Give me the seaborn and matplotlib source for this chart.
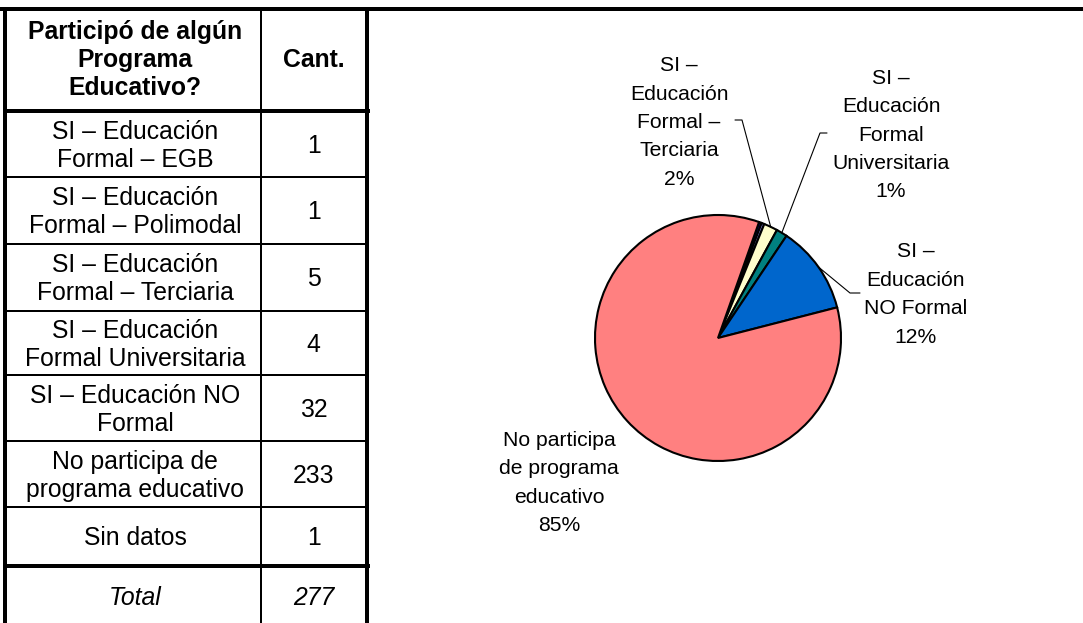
import matplotlib
matplotlib.use("Agg")
import matplotlib.pyplot as plt
import seaborn as sns
import numpy as np

# table data
row_labels = [
    "SI – Educación\nFormal – EGB",
    "SI – Educación\nFormal – Polimodal",
    "SI – Educación\nFormal – Terciaria",
    "SI – Educación\nFormal Universitaria",
    "SI – Educación NO\nFormal",
    "No participa de\nprograma educativo",
    "Sin datos",
]
row_counts = [1, 1, 5, 4, 32, 233, 1]
total_label = "Total"
total_count = 277
header_labels = ["Participó de algún\nPrograma\nEducativo?", "Cant."]

# pie data (Sin datos is not in the pie)
pie_values = [1, 1, 5, 4, 32, 233]
pie_colors = ["#000080", "#9999FF", "#FFFFCC", "#008080", "#0066CC", "#FF8080"]
pie_labels = [None, None,
              "SI –\nEducación\nFormal –\nTerciaria",
              "SI –\nEducación\nFormal\nUniversitaria",
              "SI –\nEducación\nNO Formal",
              "No participa\nde programa\neducativo"]
pie_pct = [None, None, "2%", "1%", "12%", "85%"]

sns.set_theme(style="white")
plt.rcParams["font.family"] = ["Liberation Sans", "DejaVu Sans"]

W, H = 1083, 623
fig = plt.figure(figsize=(W / 100, H / 100), dpi=100)
ax = fig.add_axes([0, 0, 1, 1])


def px2pt(px):
    return px * 72 / 100


def draw_lines(x, yc, text, size_px, spacing, **kw):
    lines = text.split("\n")
    n = len(lines)
    for i, line in enumerate(lines):
        base = yc + (i - (n - 1) / 2) * spacing + 0.358 * size_px
        ax.text(x, base, line, ha="center", va="baseline",
                fontsize=px2pt(size_px), color="black", zorder=5, **kw)


# ---- table ----
x_left, x_mid, x_right = 5, 261, 366.5
y_top, y_head = 9, 111
row_bounds = [111, 177, 244, 311, 375, 441, 507, 566]
y_bottom = H
thick, thin = px2pt(4), px2pt(2)
fs_tab = 24.7
sp_tab = 28

ax.hlines(y_top, 0, W, color="black", lw=thick, capstyle="butt")
ax.hlines(y_head, x_left, 370, color="black", lw=thick, capstyle="butt")
ax.hlines(row_bounds[-1], x_left, 370, color="black", lw=thick, capstyle="butt")
for yb in row_bounds[1:-1]:
    ax.hlines(yb, x_left, x_right, color="black", lw=thin, capstyle="butt")
ax.vlines([x_left, x_right], y_top, y_bottom, color="black", lw=thick, capstyle="butt")
ax.vlines(x_mid, y_top, y_bottom, color="black", lw=thin, capstyle="butt")

c1 = (x_left + x_mid) / 2 + 2
c2 = (x_mid + x_right) / 2
draw_lines(c1, (y_top + y_head) / 2 - 2, header_labels[0], fs_tab, sp_tab, fontweight="bold")
draw_lines(c2, (y_top + y_head) / 2 - 2, header_labels[1], fs_tab, sp_tab, fontweight="bold")
for i, (lab, cnt) in enumerate(zip(row_labels, row_counts)):
    yc = (row_bounds[i] + row_bounds[i + 1]) / 2
    draw_lines(c1, yc, lab, fs_tab, sp_tab)
    draw_lines(c2, yc, str(cnt), fs_tab, sp_tab)
yc = (row_bounds[-1] + y_bottom) / 2 + 2
draw_lines(c1, yc, total_label, fs_tab, sp_tab, fontstyle="italic")
draw_lines(c2, yc, str(total_count), fs_tab, sp_tab, fontstyle="italic")

# ---- pie ----
cx, cy, r = 718, 338, 123
wedges, _ = ax.pie(pie_values, colors=pie_colors, startangle=19.5 - 90,
                   counterclock=True, center=(cx, cy), radius=r, frame=True,
                   wedgeprops=dict(edgecolor="black", linewidth=1.5))

fs_pie = 21.2
sp_pie = 28.4
label_pos = {2: (679, 120.5), 3: (891, 133), 4: (916, 292.5), 5: (559, 481)}
# leader lines: end near text, elbow
leaders = {2: ((735, 120), (742, 120)),
           3: ((827, 133), (820, 133)),
           4: ((860, 293), (850, 293))}

for i, w in enumerate(wedges):
    if pie_labels[i] is None:
        continue
    lx, ly = label_pos[i]
    draw_lines(lx, ly, pie_labels[i] + "\n" + pie_pct[i], fs_pie, sp_pie)
    if i in leaders:
        mid = np.deg2rad((w.theta1 + w.theta2) / 2)
        ax_x = cx + r * np.cos(mid)
        ax_y = cy + r * np.sin(mid)
        (ex, ey), (bx, by) = leaders[i]
        ax.plot([ex, bx, ax_x], [ey, by, ax_y], color="black", lw=0.8, zorder=4)

ax.set_xlim(0, W)
ax.set_ylim(H, 0)
ax.set_aspect("auto")
ax.axis("off")

fig.savefig("out.png", dpi=100, facecolor="white")
